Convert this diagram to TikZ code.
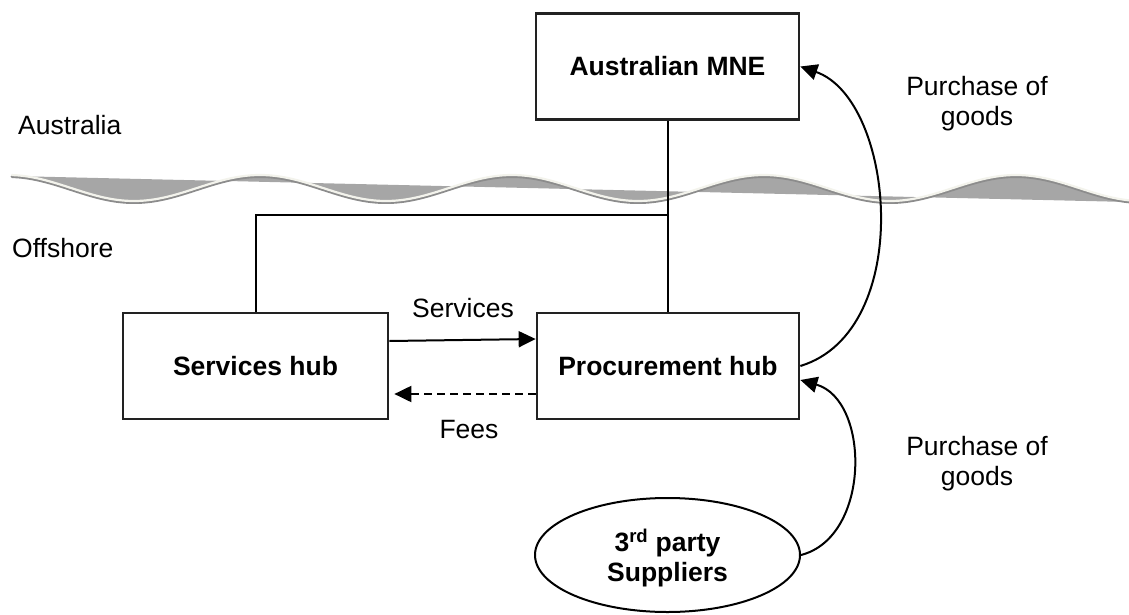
\documentclass[tikz,border=0pt]{standalone}
\usepackage{fontspec}
\setmainfont{Liberation Sans}
\usetikzlibrary{arrows.meta,shapes.geometric}
\definecolor{wavefill}{HTML}{A6A6A6}
\definecolor{wavecream}{HTML}{F3F3EC}
\definecolor{waveshadow}{HTML}{8C8C8C}
\definecolor{boxline}{HTML}{222222}
\begin{document}
\begin{tikzpicture}[x=1pt,y=-1pt,
  every node/.style={font=\fontsize{26.5}{30}\selectfont, inner sep=0pt},
  hubbox/.style={draw=boxline, line width=2.7pt, minimum width=263pt, minimum height=106pt,
    font=\fontsize{26.5}{30}\selectfont\bfseries, text height=19pt, text depth=0pt},
  supbox/.style={ellipse, draw=black, line width=2pt, minimum width=265pt, minimum height=114pt,
    align=center, font=\fontsize{26.5}{30}\selectfont\bfseries, text depth=0pt},
  conn/.style={line width=2pt},
  tip/.style={-{Triangle[length=17pt,width=16pt]}},
  lbl/.style={anchor=base}]
\useasboundingbox (0,0) rectangle (1129,615);

% shoreline wave
\fill[wavefill] plot[domain=12:1129, samples=250, smooth] (\x,{188-13*cos((\x-8)/252*360)}) -- (1129,202) -- (12,176) -- cycle;
\draw[waveshadow, line width=3pt, line cap=round] plot[domain=12:1129, samples=250, smooth] (\x,{189.5-13*cos((\x-8)/252*360)});
\draw[wavecream, line width=2.2pt, line cap=round] plot[domain=12:1129, samples=250, smooth] (\x,{188-13*cos((\x-8)/252*360)});

% nodes
\node[hubbox] (mne) at (667.5,66.5) {Australian MNE};
\node[hubbox, minimum width=265pt] (svc) at (255.5,366) {Services hub};
\node[hubbox, minimum width=262pt] (proc) at (668,366) {Procurement hub};
\node[supbox] (sup) at (667.5,555) {3\textsuperscript{rd} party\\Suppliers};

% labels
\node[anchor=base west] (aus) at (18,135) {Australia};
\node[anchor=base west] (off) at (12,257) {Offshore};
\node[lbl] (pg1a) at (977,96) {Purchase of};
\node[lbl] (pg1b) at (977,125) {goods};
\node[lbl] (pg2a) at (977,455) {Purchase of};
\node[lbl] (pg2b) at (977,485) {goods};
\node[lbl] (svlbl) at (463,317) {Services};
\node[lbl] (fees) at (469,438) {Fees};

% connectors
\coordinate (junc) at (667.5,215);
\draw[conn] (mne.south) -- (mne.south |- proc.north);
\draw[conn] (svc.north) |- (junc);
\draw[conn, tip] ([yshift=25pt]svc.east) -- ([yshift=27pt]proc.west);
\draw[conn, tip, dash pattern=on 8pt off 5pt] ([yshift=-28pt]proc.west) -- ([xshift=5pt,yshift=-28pt]svc.east);
\draw[conn, tip] (proc.east) .. controls +(115,-35) and +(95,33) .. (mne.east);
\draw[conn, tip] (sup.east) .. controls +(70,-18) and +(70,20) .. ([yshift=-14pt]proc.east);
\end{tikzpicture}
\end{document}
